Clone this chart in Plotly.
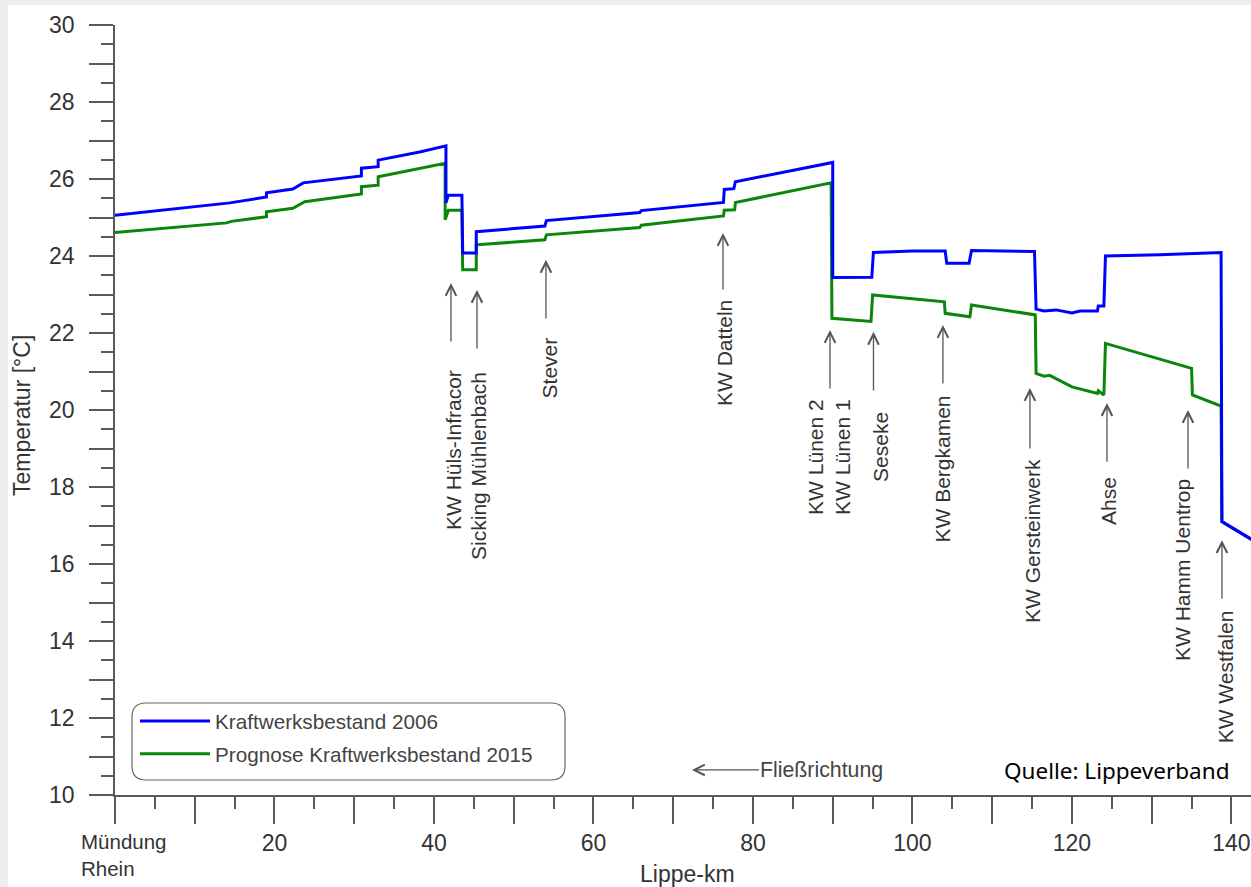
import plotly.graph_objects as go

# ---------------- data ----------------
km_2006 = [0, 14.4, 19.0, 19.0, 22.3, 23.6, 30.9, 30.9, 33.0, 33.0, 38.2,
           41.5, 41.5, 41.8, 43.5, 43.6, 45.3, 45.3, 53.9, 54.1, 65.8, 66.0,
           76.3, 76.4, 77.6, 77.8, 90.0, 90.0, 94.9, 95.1, 100.0, 104.1, 104.3,
           107.1, 107.4, 115.3, 115.5, 116.5, 118.0, 120.0, 121.0, 123.2, 123.3,
           124.0, 124.2, 131.0, 138.7, 138.8, 142.5]
temp_2006 = [25.06, 25.38, 25.53, 25.64, 25.74, 25.90, 26.08, 26.28, 26.32, 26.49, 26.70,
             26.86, 25.38, 25.58, 25.58, 24.08, 24.08, 24.63, 24.78, 24.92, 25.13, 25.18,
             25.39, 25.73, 25.75, 25.93, 26.43, 23.44, 23.45, 24.09, 24.13, 24.13, 23.81,
             23.81, 24.14, 24.12, 22.62, 22.57, 22.60, 22.52, 22.57, 22.57, 22.70,
             22.70, 24.00, 24.03, 24.09, 17.10, 16.64]

km_2015 = [0, 14.0, 14.6, 19.0, 19.0, 22.3, 23.8, 30.9, 30.9, 33.0, 33.0, 38.2,
           41.4, 41.4, 41.8, 43.5, 43.6, 45.3, 45.3, 53.9, 54.1, 65.8, 66.0,
           76.3, 76.4, 77.7, 77.8, 89.8, 89.9, 94.8, 95.0, 104.0, 104.1, 107.2,
           107.4, 115.4, 115.5, 116.5, 117.2, 120.0, 123.2, 123.3, 124.0, 124.2,
           135.0, 135.1, 138.7, 138.8, 142.5]
temp_2015 = [24.61, 24.86, 24.90, 25.02, 25.15, 25.24, 25.41, 25.61, 25.80, 25.84, 26.06, 26.28,
             26.41, 24.94, 25.19, 25.19, 23.64, 23.64, 24.29, 24.42, 24.55, 24.74, 24.80,
             25.04, 25.19, 25.20, 25.39, 25.90, 22.38, 22.30, 22.99, 22.81, 22.51, 22.42,
             22.73, 22.47, 20.95, 20.88, 20.90, 20.60, 20.43, 20.50, 20.39, 21.73,
             21.08, 20.39, 20.10, 17.10, 16.64]

series_names = ["Kraftwerksbestand 2006", "Prognose Kraftwerksbestand 2015"]

x_tick_vals = [0, 10, 20, 30, 40, 50, 60, 70, 80, 90, 100, 110, 120, 130, 140]
x_tick_text = ["", "", "20", "", "40", "", "60", "", "80", "", "100", "", "120", "", "140"]
y_tick_vals = [10, 11, 12, 13, 14, 15, 16, 17, 18, 19, 20, 21, 22, 23, 24, 25, 26, 27, 28, 29, 30]
y_tick_text = ["10", "", "12", "", "14", "", "16", "", "18", "", "20", "", "22", "", "24", "",
               "26", "", "28", "", "30"]

marker_labels = ["KW Hüls-Infracor", "Sicking Mühlenbach", "Stever", "KW Datteln",
                 "KW Lünen 2<br>KW Lünen 1", "Seseke", "KW Bergkamen", "KW Gersteinwerk",
                 "Ahse", "KW Hamm Uentrop", "KW Westfalen"]
arrow_km = [42.13, 45.39, 54.04, 76.24, 89.66, 95.11, 103.82, 114.73, 124.39, 134.55, 138.81]
arrow_head_temp = [23.30, 23.12, 23.90, 24.60, 22.08, 22.03, 22.21, 20.57, 20.18, 20.00, 16.62]
arrow_tail_temp = [21.74, 21.56, 22.34, 23.09, 20.52, 20.47, 20.65, 18.96, 18.62, 18.44, 15.06]
label_km = [42.38, 45.64, 54.42, 76.49, 89.53, 95.92, 103.82, 115.11, 124.51, 133.92, 139.18]
label_top_temp = [21.09, 21.04, 21.95, 22.91, 20.34, 20.00, 20.44, 18.78, 18.31, 18.26, 14.86]

# ---------------- geometry helpers ----------------
W, H = 1251, 887
ML, MR, MT, MB = 115, 0, 25, 92
PW, PH = W - ML - MR, H - MT - MB
X_RANGE = [0, 142.45]
Y_RANGE = [10, 30]


def pxx(px):
    return (px - ML) / PW


def pxy(py):
    return (H - MB - py) / PH


FONT = "Liberation Sans, Arial, sans-serif"
AXC = "#5a5a5a"
TXT = "#333333"

fig = go.Figure()
fig.add_trace(go.Scatter(x=km_2015, y=temp_2015, mode="lines", name=series_names[1],
                         legendgroup="b", legendrank=2, line=dict(color="#0a870a", width=3)))
fig.add_trace(go.Scatter(x=km_2006, y=temp_2006, mode="lines", name=series_names[0],
                         legendgroup="a", legendrank=1, line=dict(color="#0000ff", width=3)))

annotations = []
for lab, ak, ah, at, lk, lt in zip(marker_labels, arrow_km, arrow_head_temp, arrow_tail_temp,
                                   label_km, label_top_temp):
    annotations.append(dict(x=ak, y=ah, ax=ak, ay=at, xref="x", yref="y", axref="x", ayref="y",
                            text="", showarrow=True, arrowhead=5, arrowsize=1.6, arrowwidth=1.3,
                            arrowcolor="#555555", standoff=0, startstandoff=0))
    annotations.append(dict(x=lk, y=lt, xref="x", yref="y", text=lab, showarrow=False,
                            textangle=-90, xanchor="center", yanchor="top", align="center",
                            font=dict(family=FONT, size=21, color=TXT)))

# flow direction
annotations.append(dict(x=72.35, y=10.65, xref="x", yref="y", text="Fließrichtung",
                        showarrow=True, ax=130, ay=0, arrowhead=5, arrowsize=1.6, arrowwidth=1.3,
                        arrowcolor="#555555", standoff=0,
                        font=dict(family=FONT, size=21.3, color="#444444")))
# source
annotations.append(dict(x=pxx(1231), y=pxy(770), xref="paper", yref="paper",
                        text="Quelle: Lippeverband", showarrow=False, xanchor="right",
                        yanchor="middle", font=dict(family="Noto Sans, sans-serif", size=22.5,
                                                    color="#000000")))
# river mouth label
annotations.append(dict(x=pxx(79), y=pxy(855), xref="paper", yref="paper",
                        text="Mündung<br>Rhein", showarrow=False, xanchor="left", yanchor="middle",
                        align="left", font=dict(family=FONT, size=20.5, color=TXT)))
# axis titles
annotations.append(dict(x=pxx(687), y=pxy(874), xref="paper", yref="paper", text="Lippe-km",
                        showarrow=False, xanchor="center", yanchor="middle",
                        font=dict(family=FONT, size=23, color=TXT)))
annotations.append(dict(x=pxx(22), y=pxy(416), xref="paper", yref="paper",
                        text="Temperatur [°C]", showarrow=False, textangle=-90,
                        xanchor="center", yanchor="middle",
                        font=dict(family=FONT, size=23, color=TXT)))


def rounded_rect(x0, y0, x1, y1, r):
    def P(px, py):
        return f"{pxx(px):.5f},{pxy(py):.5f}"
    return (f"M {P(x0 + r, y0)} L {P(x1 - r, y0)} Q {P(x1, y0)} {P(x1, y0 + r)} "
            f"L {P(x1, y1 - r)} Q {P(x1, y1)} {P(x1 - r, y1)} L {P(x0 + r, y1)} "
            f"Q {P(x0, y1)} {P(x0, y1 - r)} L {P(x0, y0 + r)} Q {P(x0, y0)} {P(x0 + r, y0)} Z")


shapes = [
    dict(type="rect", xref="paper", yref="paper", x0=pxx(0), x1=pxx(8), y0=pxy(H), y1=pxy(0),
         fillcolor="#eeeeee", line=dict(width=0), layer="below"),
    dict(type="rect", xref="paper", yref="paper", x0=pxx(0), x1=pxx(W), y0=pxy(5), y1=pxy(0),
         fillcolor="#eeeeee", line=dict(width=0), layer="below"),
    dict(type="path", xref="paper", yref="paper", path=rounded_rect(132, 703, 565, 780, 14),
         line=dict(color="#666666", width=1.2), fillcolor="rgba(255,255,255,0)", layer="below"),
]

fig.update_layout(
    width=W, height=H,
    margin=dict(l=ML, r=MR, t=MT, b=MB, pad=0),
    paper_bgcolor="white", plot_bgcolor="white",
    font=dict(family=FONT, color=TXT),
    showlegend=True,
    legend=dict(x=pxx(135), y=pxy(701), xanchor="left", yanchor="top",
                bgcolor="rgba(0,0,0,0)", borderwidth=0, traceorder="grouped",
                tracegroupgap=3, font=dict(family=FONT, size=20.7, color="#444444"),
                itemwidth=70),
    annotations=annotations,
    shapes=shapes,
    xaxis=dict(range=X_RANGE, showgrid=False, zeroline=False, showline=True,
               linecolor=AXC, linewidth=1.5, ticks="outside", ticklen=27, tickwidth=1.5,
               tickcolor=AXC, tickvals=x_tick_vals, ticktext=x_tick_text,
               tickfont=dict(family=FONT, size=23, color=TXT),
               minor=dict(dtick=5, tick0=0, ticks="outside", ticklen=12, tickwidth=1.5,
                          tickcolor=AXC)),
    yaxis=dict(range=Y_RANGE, showgrid=False, zeroline=False, showline=True,
               linecolor=AXC, linewidth=1.5, ticks="outside", ticklen=24, tickwidth=1.5,
               tickcolor=AXC, tickvals=y_tick_vals, ticktext=y_tick_text,
               tickfont=dict(family=FONT, size=23, color=TXT), ticklabelstandoff=10,
               minor=dict(dtick=0.5, tick0=10, ticks="outside", ticklen=12, tickwidth=1.5,
                          tickcolor=AXC)),
)

fig.write_html("out.html", config={"displayModeBar": False},
               post_script="document.body.style.margin='0px';document.body.style.overflow='hidden';")
